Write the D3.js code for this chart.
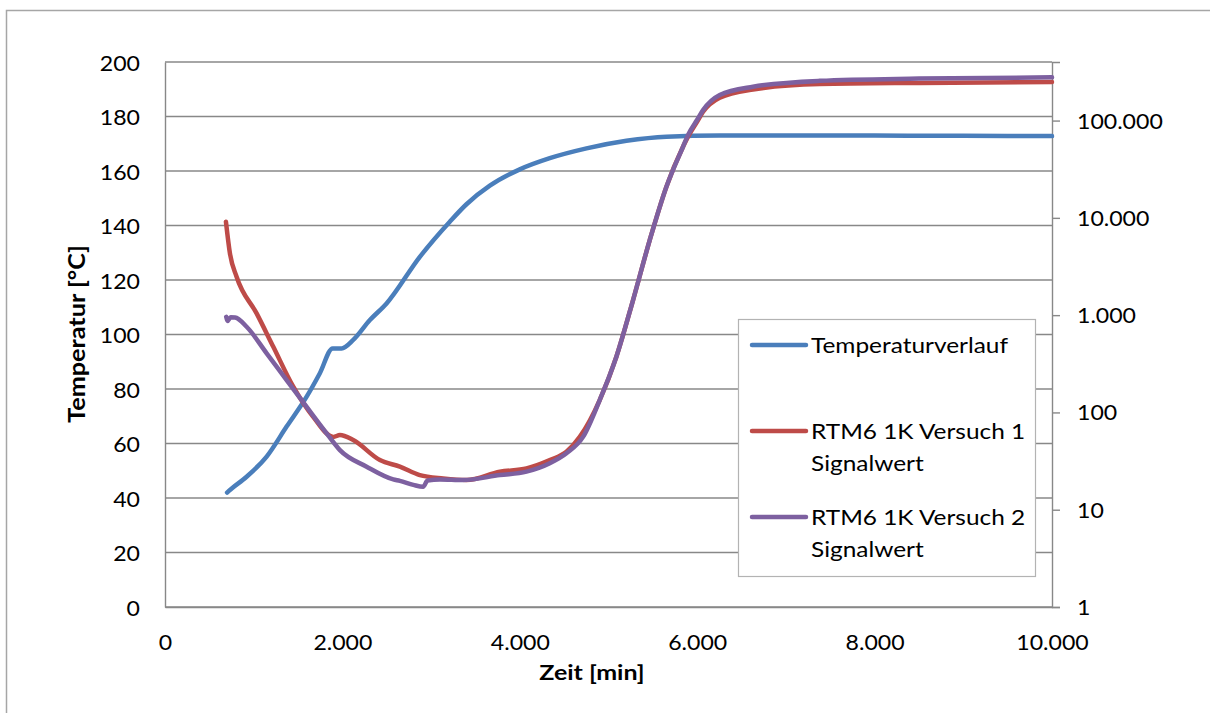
<!DOCTYPE html>
<html>
<head>
<meta charset="utf-8">
<script src="https://cdn.jsdelivr.net/npm/d3@7/dist/d3.min.js"></script>
<style>
  html, body { margin: 0; padding: 0; background: #fff; }
  svg { display: block; }
  text { font-family: Lato, "Open Sans", sans-serif; fill: #000; }
</style>
</head>
<body>
<svg id="chart" width="1210" height="713"></svg>
<script>
// Zeit-Achse (x), Temperatur (linke Achse), Signalwert (rechte, logarithmische Achse)
const xTicks = [0, 2000, 4000, 6000, 8000, 10000];
const tempTicks = [0, 20, 40, 60, 80, 100, 120, 140, 160, 180, 200];
const signalTicks = [1, 10, 100, 1000, 10000, 100000];

// Temperaturverlauf
const tempTime = [700, 720, 920, 1146, 1371, 1597, 1746, 1890, 1991, 2122, 2310, 2498, 2873,
  3211, 3399, 3662, 4000, 4338, 4752, 5202, 5653, 6254, 7000, 8000, 9000, 10000];
const tempValues = [42.0, 42.6, 47.8, 55.2, 66.2, 77.2, 85.8, 94.9, 94.9, 98, 105.3, 111.4, 128.5,
  141.4, 147.8, 154.6, 160.6, 164.7, 168.3, 171.1, 172.6, 173, 173, 173, 172.9, 172.8];

// RTM6 1K Versuch 1 Signalwert
const sig1Time = [687, 732, 807, 1033, 1221, 1446, 1671, 1897, 1972, 2122, 2423, 2648, 2873, 3136,
  3399, 3775, 4075, 4338, 4526, 4676, 4901, 5089, 5277, 5465, 5653, 5840, 5900, 6000, 6066, 6254,
  6629, 7380, 8500, 10000];
const sig1Values = [9120, 4315, 2483, 1042, 473, 184, 90, 56, 58.6, 52, 32.4, 27.7, 22.7, 21,
  20.2, 24.6, 26.6, 32.4, 39.4, 56, 134, 374, 1430, 5910, 20900, 53800, 69200, 97700, 123000, 171800,
  209000, 237000, 244000, 249000];

// RTM6 1K Versuch 2 Signalwert
const sig2Time = [690, 705, 740, 790, 920, 1146, 1371, 1597, 1822, 1972, 2273, 2573, 2648, 2800, 2910,
  2960, 3100, 3361, 3775, 4075, 4338, 4526, 4713, 4901, 5089, 5277, 5465, 5653, 5840, 5900, 6000, 6066,
  6254, 6629, 7380, 8500, 10000];
const sig2Values = [960, 870, 950, 945, 760, 405, 215, 114, 61, 41, 27.7, 20.5, 19.8, 18, 17.2,
  20, 20.5, 20.2, 22.7, 24.6, 30, 38, 56, 134, 374, 1430, 5910, 20900, 53800, 72000, 102000, 128000,
  183000, 223000, 256000, 270000, 278000];

const legendLabels = [["Temperaturverlauf"], ["RTM6 1K Versuch 1", "Signalwert"], ["RTM6 1K Versuch 2", "Signalwert"]];
const seriesColors = ["#4a7ebb", "#be4b48", "#7d60a0"];

const de = d3.formatLocale({ decimal: ",", thousands: ".", grouping: [3], currency: ["", " €"] });
const fmt = de.format(",d");

const svg = d3.select("#chart");
const W = 1210, H = 713;
const plot = { left: 165, right: 1052, top: 62, bottom: 607 };
const sx = 1.1;             // horizontal glyph stretch for tick labels
const fs = 21;              // tick label font size
const gridColor = "#888888";

const x = d3.scaleLinear().domain([0, 10000]).range([plot.left, plot.right]);
const yT = d3.scaleLinear().domain([0, 200]).range([plot.bottom, plot.top]);
const yS = d3.scaleLog().domain([1, 400000]).range([plot.bottom, plot.top]);

// Diagrammrahmen
svg.append("rect")
  .attr("x", 6.5).attr("y", 10.5).attr("width", W + 20).attr("height", H + 20)
  .attr("fill", "#fff").attr("stroke", "#a6a6a6").attr("stroke-width", 1.5);

// Gitternetzlinien
svg.append("g").selectAll("line").data(tempTicks).join("line")
  .attr("x1", plot.left).attr("x2", plot.right)
  .attr("y1", d => yT(d)).attr("y2", d => yT(d))
  .attr("stroke", gridColor).attr("stroke-width", 1.4);

// Linke Achse
const axL = svg.append("g").attr("transform", `translate(${plot.left},0)`)
  .call(d3.axisLeft(yT).tickValues(tempTicks).tickSize(0).tickFormat(fmt));
axL.select(".domain").attr("stroke", gridColor).attr("stroke-width", 1.4);
axL.selectAll("text").attr("font-size", fs).attr("x", -25 / sx).attr("dy", "0.4em")
  .attr("transform", `scale(${sx},1)`);

// Rechte Achse (logarithmisch)
const axR = svg.append("g").attr("transform", `translate(${plot.right},0)`)
  .call(d3.axisRight(yS).tickValues(signalTicks).tickSize(8).tickFormat(fmt));
axR.select(".domain").attr("stroke", gridColor).attr("stroke-width", 1.4);
axR.selectAll(".tick line").attr("stroke", gridColor).attr("stroke-width", 1.4);
axR.selectAll("text").attr("font-size", fs).attr("x", 25 / sx).attr("dy", "0.36em")
  .attr("transform", `scale(${sx},1)`);

// Untere Achse
const axB = svg.append("g").attr("transform", `translate(0,${plot.bottom})`)
  .call(d3.axisBottom(x).tickValues(xTicks).tickSize(0).tickFormat(fmt));
axB.select(".domain").attr("stroke", gridColor).attr("stroke-width", 1.4);
axB.selectAll("text").attr("font-size", fs).attr("x", 0).attr("y", 28).attr("dy", "0.71em")
  .attr("transform", `scale(${sx},1)`);

// Achsentitel
svg.append("text")
  .attr("transform", "translate(592,680) scale(1.19,1)")
  .attr("text-anchor", "middle").attr("font-size", fs).attr("font-weight", "bold")
  .text("Zeit [min]");
svg.append("text")
  .attr("transform", "translate(85,334) rotate(-90) scale(1.2,1.1)")
  .attr("text-anchor", "middle").attr("font-size", fs).attr("font-weight", "bold")
  .text("Temperatur [°C]");

// Kurven
const lineT = d3.line().x(d => x(d[0])).y(d => yT(d[1])).curve(d3.curveMonotoneX);
const lineS = d3.line().x(d => x(d[0])).y(d => yS(d[1])).curve(d3.curveMonotoneX);
const series = [
  { path: lineT(d3.zip(tempTime, tempValues)), color: seriesColors[0] },
  { path: lineS(d3.zip(sig1Time, sig1Values)), color: seriesColors[1] },
  { path: lineS(d3.zip(sig2Time, sig2Values)), color: seriesColors[2] }
];
svg.append("g").selectAll("path").data(series).join("path")
  .attr("d", d => d.path).attr("fill", "none")
  .attr("stroke", d => d.color).attr("stroke-width", 4.5)
  .attr("stroke-linecap", "round").attr("stroke-linejoin", "round");

// Legende
const lg = svg.append("g");
lg.append("rect").attr("x", 738.5).attr("y", 319.5).attr("width", 297).attr("height", 257)
  .attr("fill", "#fff").attr("stroke", "#b3b3b3").attr("stroke-width", 1.2);
const baselines = [353, 439, 525];
legendLabels.forEach((lines, i) => {
  const b = baselines[i];
  lg.append("line").attr("x1", 752).attr("x2", 806).attr("y1", b - 8).attr("y2", b - 8)
    .attr("stroke", seriesColors[i]).attr("stroke-width", 4.5).attr("stroke-linecap", "round");
  lines.forEach((s, j) => {
    lg.append("text").attr("transform", `translate(811,${b + j * 32}) scale(1.11,1)`)
      .attr("font-size", 22).text(s);
  });
});
</script>
</body>
</html>
